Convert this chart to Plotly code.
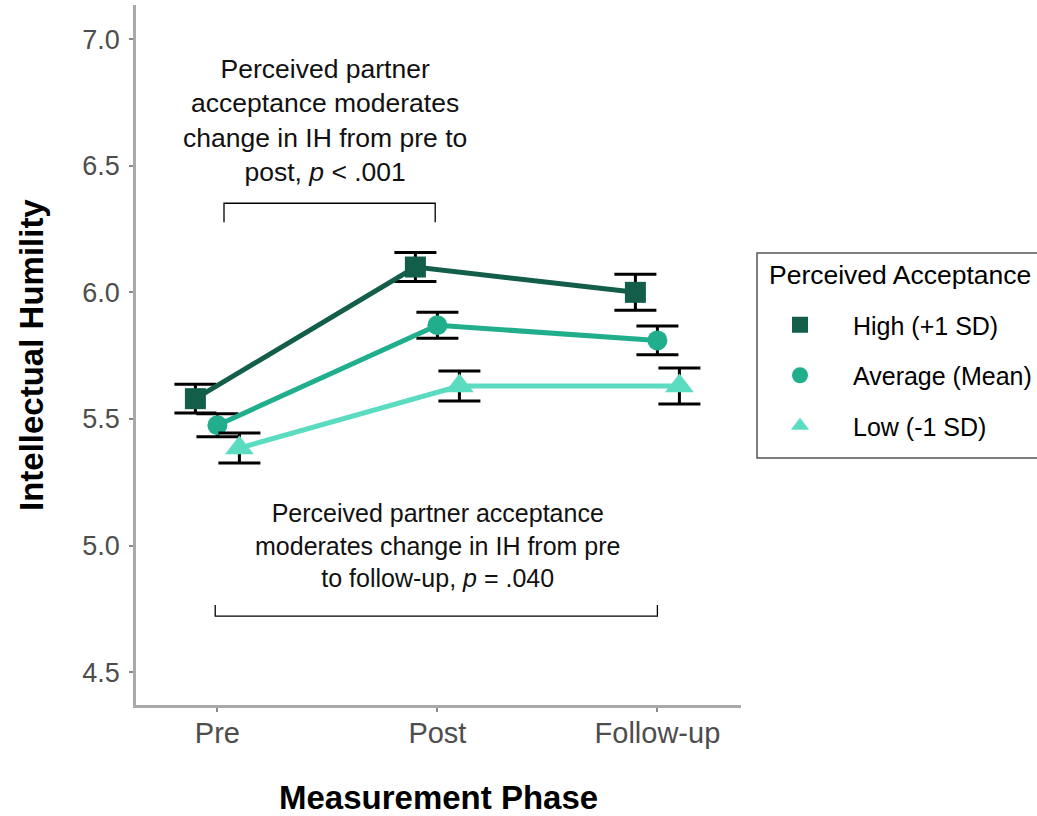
import plotly.graph_objects as go

# ---------------- data ----------------
phases = ["Pre", "Post", "Follow-up"]
phase_pos = [1, 2, 3]
groups = ["High (+1 SD)", "Average (Mean)", "Low (-1 SD)"]
dodge = [-0.1, 0.0, 0.1]

high_mean = [5.58, 6.10, 6.00]
high_se = [0.057, 0.057, 0.071]
avg_mean = [5.475, 5.87, 5.81]
avg_se = [0.045, 0.051, 0.057]
low_mean = [5.385, 5.63, 5.63]
low_se = [0.059, 0.059, 0.071]

y_ticks = [4.5, 5.0, 5.5, 6.0, 6.5, 7.0]

# bracket spans (data units)
top_bracket_x = [1.03, 1.99]
top_bracket_y = [6.277, 6.352]
bottom_bracket_x = [0.99, 3.0]
bottom_bracket_y = [4.765, 4.721]

top_note = "Perceived partner<br>acceptance moderates<br>change in IH from pre to<br>post, <i>p</i> &lt; .001"
bottom_note = "Perceived partner acceptance<br>moderates change in IH from pre<br>to follow-up, <i>p</i> = .040"
legend_title = "Perceived Acceptance"

# ---------------- style ----------------
colors = ["#135E4B", "#21AE8D", "#5BDCC0"]
symbols = ["square", "circle", "triangle-up"]
sizes = [21, 20, 25]
FONT = "Liberation Sans, Arial, sans-serif"

means = [high_mean, avg_mean, low_mean]
ses = [high_se, avg_se, low_se]

# plot-area pixel geometry (for paper-coordinate placement)
L, R, T, B = 136, 296, 5, 111
W, H = 1037, 816
PW, PH = W - L - R, H - T - B


def px_x(px):
    return (px - L) / PW


def px_y(py):
    return (H - B - py) / PH


fig = go.Figure()

for g, m, s, c, sym, sz, d in zip(groups, means, ses, colors, symbols, sizes, dodge):
    xs = [p + d for p in phase_pos]
    fig.add_trace(go.Scatter(
        x=xs, y=m, mode="lines+markers", name=g, showlegend=False,
        line=dict(color=c, width=5),
        marker=dict(symbol=sym, size=sz, color=c),
        error_y=dict(type="data", array=s, visible=True, color="black",
                     thickness=3, width=21),
    ))

# legend-only traces (marker symbols only)
for i, (g, c, sym) in enumerate(zip(groups, colors, symbols)):
    fig.add_trace(go.Scatter(
        x=[None], y=[None], mode="markers", name=g, showlegend=True,
        legendgroup=f"g{i}",
        marker=dict(symbol=sym, size=18, color=c),
    ))

# brackets
fig.add_trace(go.Scatter(
    x=[top_bracket_x[0], top_bracket_x[0], top_bracket_x[1], top_bracket_x[1]],
    y=[top_bracket_y[0], top_bracket_y[1], top_bracket_y[1], top_bracket_y[0]],
    mode="lines", line=dict(color="black", width=1.3), showlegend=False, hoverinfo="skip"))
fig.add_trace(go.Scatter(
    x=[bottom_bracket_x[0], bottom_bracket_x[0], bottom_bracket_x[1], bottom_bracket_x[1]],
    y=[bottom_bracket_y[0], bottom_bracket_y[1], bottom_bracket_y[1], bottom_bracket_y[0]],
    mode="lines", line=dict(color="black", width=1.3), showlegend=False, hoverinfo="skip"))

fig.add_annotation(x=1.49, y=6.68, xref="x", yref="y", text=top_note, showarrow=False,
                   font=dict(family=FONT, size=26.5, color="#111111"), align="center",
                   xanchor="center", yanchor="middle")
fig.add_annotation(x=2.0, y=5.0, xref="x", yref="y", text=bottom_note, showarrow=False,
                   font=dict(family=FONT, size=25, color="#111111"), align="center",
                   xanchor="center", yanchor="middle")

# axis titles
fig.add_annotation(x=0.5, y=px_y(797), xref="paper", yref="paper", text="<b>Measurement Phase</b>",
                   showarrow=False, font=dict(family=FONT, size=33, color="black"),
                   xanchor="center", yanchor="middle")
fig.add_annotation(x=px_x(31), y=0.5, xref="paper", yref="paper", text="<b>Intellectual Humility</b>",
                   showarrow=False, textangle=-90, font=dict(family=FONT, size=33, color="black"),
                   xanchor="center", yanchor="middle")

# legend frame and title
fig.add_shape(type="rect", xref="paper", yref="paper",
              x0=px_x(757), x1=px_x(1120), y0=px_y(458), y1=px_y(253),
              line=dict(color="#555555", width=1.5), fillcolor="rgba(0,0,0,0)", layer="above")
fig.add_annotation(x=px_x(767), y=px_y(275), xref="paper", yref="paper", text=legend_title,
                   showarrow=False, font=dict(family=FONT, size=26.5, color="black"),
                   xanchor="left", yanchor="middle")

fig.update_layout(
    width=W, height=H,
    margin=dict(l=L, r=R, t=T, b=B, autoexpand=False),
    paper_bgcolor="white", plot_bgcolor="white",
    font=dict(family=FONT),
    xaxis=dict(range=[0.63, 3.38], tickmode="array", tickvals=phase_pos, ticktext=phases,
               showgrid=False, zeroline=False, showline=True, linecolor="#A9A9A9", linewidth=2.5,
               ticks="outside", ticklen=4, tickcolor="#8A8A8A", tickwidth=1.5,
               ticklabelstandoff=-4,
               tickfont=dict(family=FONT, size=29, color="#4D4D4D")),
    yaxis=dict(range=[4.370, 7.135], tickmode="array", tickvals=y_ticks,
               ticktext=[f"{v:.1f}" for v in y_ticks],
               showgrid=False, zeroline=False, showline=True, linecolor="#A9A9A9", linewidth=2.5,
               ticks="outside", ticklen=4, tickcolor="#8A8A8A", tickwidth=1.5,
               ticklabelstandoff=4,
               tickfont=dict(family=FONT, size=27, color="#4D4D4D")),
    legend=dict(x=px_x(747), y=px_y(302), xanchor="left", yanchor="top", xref="paper", yref="paper",
                borderwidth=0, bgcolor="rgba(0,0,0,0)",
                font=dict(family=FONT, size=25, color="black"),
                traceorder="grouped", tracegroupgap=15, itemwidth=96),
    showlegend=True,
)

fig.write_html("out.html", config={"displayModeBar": False},
               post_script="document.body.style.margin='0px';")
